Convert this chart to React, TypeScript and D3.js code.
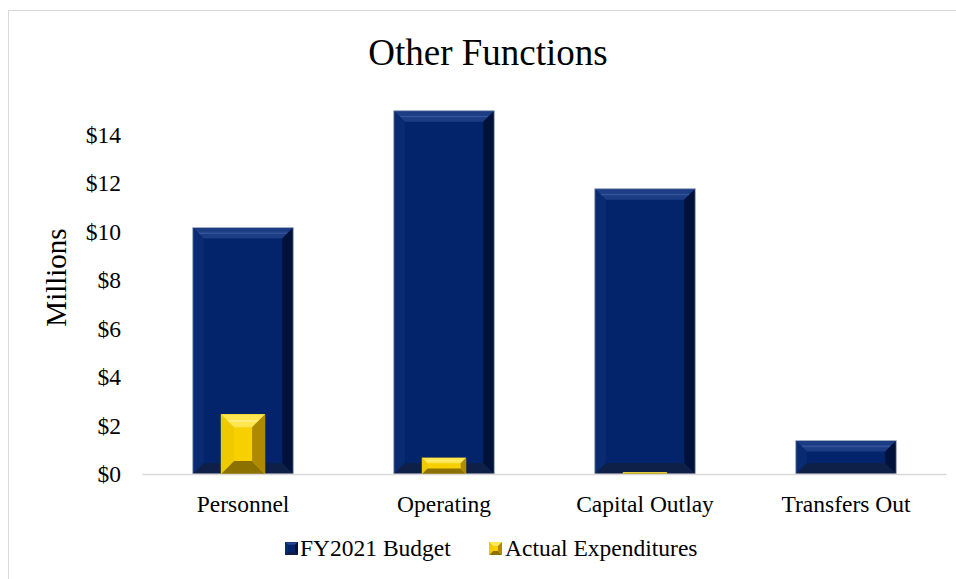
import React from "react";
import * as d3 from "d3";

const categories = ["Personnel", "Operating", "Capital Outlay", "Transfers Out"];
const budget = [10.18, 15.0, 11.78, 1.38];
const actual = [2.47, 0.67, 0.07, 0];
const yTicks = [0, 2, 4, 6, 8, 10, 12, 14];
const seriesNames = ["FY2021 Budget", "Actual Expenditures"];

const W = 956;
const H = 579;
const FONT = "'Liberation Serif', 'Times New Roman', serif";

const navy = { main: "#03246a", top: "#1c3d84", stripe: "#3a5aa0", left: "#0a2b72", right: "#00123a", bottom: "#0e1f48" };
const gold = { main: "#f7d000", top: "#ffe54f", stripe: "#fff08a", left: "#efca00", right: "#ad8a00", bottom: "#8c7000" };

type Pal = typeof navy;

function Bevel({ x, y, w, h, b, pal, stroke }: { x: number; y: number; w: number; h: number; b: number; pal: Pal; stroke?: string }) {
  if (h <= 0 || w <= 0) return null;
  const bb = Math.min(b, h / 3, w / 3);
  const p = (pts: number[][]) => pts.map((q) => q.join(",")).join(" ");
  return (
    <g>
      <rect x={x} y={y} width={w} height={h} fill={pal.main} />
      <polygon points={p([[x, y], [x + w, y], [x + w - bb, y + bb], [x + bb, y + bb]])} fill={pal.top} />
      <polygon points={p([[x + bb * 0.5, y + bb * 0.45], [x + w - bb * 0.5, y + bb * 0.45], [x + w - bb * 0.6, y + bb * 0.6], [x + bb * 0.6, y + bb * 0.6]])} fill={pal.stripe} opacity={0.8} />
      <polygon points={p([[x, y + h], [x + w, y + h], [x + w - bb, y + h - bb], [x + bb, y + h - bb]])} fill={pal.bottom} />
      <polygon points={p([[x, y], [x + bb, y + bb], [x + bb, y + h - bb], [x, y + h]])} fill={pal.left} />
      <polygon points={p([[x + w, y], [x + w - bb, y + bb], [x + w - bb, y + h - bb], [x + w, y + h]])} fill={pal.right} />
      {stroke ? <rect x={x} y={y} width={w} height={h} fill="none" stroke={stroke} strokeWidth={0.8} /> : null}
    </g>
  );
}

export default function App() {
  const x = d3.scaleBand<string>().domain(categories).range([142.5, 946.5]).padding(0);
  const y = d3.scaleLinear().domain([0, 15]).range([474, 110.7]);
  const bw = x.bandwidth();
  const budgetW = bw * 0.5;
  const actualW = bw * 0.22;

  return (
    <svg width={W} height={H} style={{ position: "absolute", left: 0, top: 0, background: "#fff" }} fontFamily={FONT}>
      <rect x={8.5} y={10.5} width={W + 20} height={H + 20} fill="#fff" stroke="#d9d9d9" strokeWidth={1} />
      <text x={488} y={65} textAnchor="middle" fontSize={37} fill="#000">Other Functions</text>

      <text transform={`translate(66,277.5) rotate(-90)`} textAnchor="middle" fontSize={29} fill="#000">Millions</text>

      {yTicks.map((t) => (
        <text key={t} x={121} y={y(t) + 8} textAnchor="end" fontSize={23.5} fill="#000">
          {"$" + d3.format("d")(t)}
        </text>
      ))}

      {categories.map((c, i) => {
        const cx = (x(c) as number) + bw / 2;
        const yb = y(budget[i]);
        const ya = y(actual[i]);
        return (
          <g key={c}>
            <Bevel x={cx - budgetW / 2} y={yb} w={budgetW} h={y(0) - yb} b={11} pal={navy} stroke="#b8bfcc" />
            {actual[i] > 0 ? (
              <Bevel x={cx - actualW / 2} y={ya} w={actualW} h={y(0) - ya} b={13} pal={gold} />
            ) : null}
          </g>
        );
      })}

      <line x1={142.5} x2={946.5} y1={474.5} y2={474.5} stroke="#d9d9d9" strokeWidth={1.5} />

      {categories.map((c) => (
        <text key={c} x={(x(c) as number) + bw / 2} y={511.5} textAnchor="middle" fontSize={23.5} fill="#000">{c}</text>
      ))}

      <g>
        <Bevel x={285} y={542} w={13} h={13} b={3} pal={navy} />
        <text x={300} y={556} fontSize={23.5} fill="#000">{seriesNames[0]}</text>
        <Bevel x={489} y={542} w={13} h={13} b={4} pal={gold} />
        <text x={505} y={556} fontSize={23.5} fill="#000">{seriesNames[1]}</text>
      </g>
    </svg>
  );
}
